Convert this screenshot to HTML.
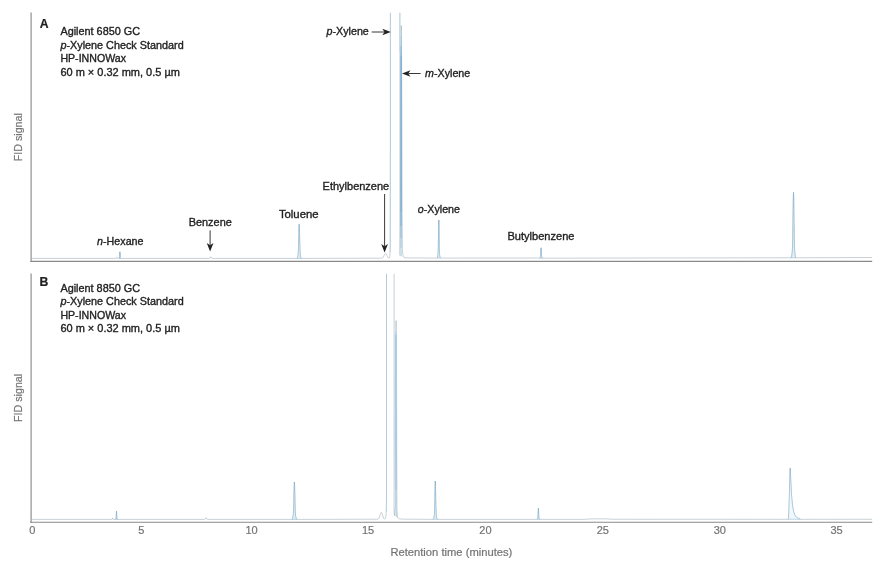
<!DOCTYPE html>
<html lang="en">
<head>
<meta charset="utf-8">
<title>p-Xylene check standard chromatograms</title>
<style>
html,body{margin:0;padding:0;background:#fff;}
body{width:890px;height:563px;overflow:hidden;}
svg{display:block;}
text{font-family:"Liberation Sans",Arial,sans-serif;font-size:11px;}
.t{fill:#222222;stroke:#222222;stroke-width:0.35px;}
.b{fill:#222222;font-weight:bold;font-size:12.2px;stroke:#222222;stroke-width:0.2px;}
.g{fill:#747474;stroke:#747474;stroke-width:0.2px;}
.i{font-style:italic;}
</style>
</head>
<body>
<svg width="890" height="563" viewBox="0 0 890 563">
<rect width="890" height="563" fill="#ffffff"/>
<g fill="none" stroke="#7a909c" stroke-width="0.42" stroke-linejoin="round">
<path d="M31.6 258.4 L114.5 258.4 L115.7 258.4 L116 258.37 L116.3 258.3 L116.54 258.07 L116.6 257.94 L116.72 257.61 L116.9 257.3 L117.08 257.61 L117.2 257.94 L117.26 258.07 L117.5 258.3 L117.8 258.37 L118.1 258.4 L119 258.4 L119.15 258.32 L119.3 258.15 L119.45 257.82 L119.6 256.81 L119.63 256.41 L119.75 254.01 L119.77 253.67 L119.9 251.8 L120.04 253.67 L120.05 254.01 L120.17 256.41 L120.2 256.81 L120.35 257.82 L120.5 258.15 L120.65 258.32 L120.8 258.4 L207.5 258.4 L208.7 258.4 L209.03 258.38 L209.37 258.33 L209.7 258.25 L210.03 257.99 L210.1 257.89 L210.37 257.27 L210.4 257.18 L210.7 256.7 L211 257.18 L211.03 257.27 L211.3 257.89 L211.37 257.99 L211.7 258.25 L212.03 258.33 L212.37 258.38 L212.7 258.4 L296 258.4 L296.9 258.4 L297.09 258.23 L297.28 257.98 L297.47 257.61 L297.67 257.1 L297.86 256.4 L298.05 255.38 L298.24 253.61 L298.43 250.2 L298.51 248.13 L298.62 244.16 L298.82 235.72 L298.85 233.95 L299.01 227.69 L299.2 224.3 L299.39 227.69 L299.55 233.95 L299.58 235.72 L299.77 244.16 L299.89 248.13 L299.97 250.2 L300.16 253.61 L300.35 255.38 L300.54 256.4 L300.73 257.1 L300.93 257.61 L301.12 257.98 L301.31 258.23 L301.5 258.4 L381.5 258.2 L382.2 258.1 L382.61 257.84 L383.02 257.41 L383.44 256.79 L383.85 256 L384.26 255.12 L384.68 254.3 L385.09 253.71 L385.5 253.5 L385.91 253.71 L386.32 254.3 L386.74 255.12 L387.15 256 L387.56 256.79 L387.97 257.41 L388.39 257.84 L388.8 258.1 L389.4 257.8 L389.9 256 L390.15 245 L390.4 150 L390.4 12.8"/>
<path d="M399.9 12.8 L399.9 254 L400.3 256 L400.6 200 L400.85 120 L401.1 50 L401.3 25.6 L401.5 50 L401.75 120 L402 200 L402.3 250 L403.2 256.9 L405 257.8 L408 257.9 L436.8 258.1 L437.2 258.1 L437.36 257.86 L437.52 257.48 L437.68 256.89 L437.84 256.04 L438 254.72 L438.16 252.17 L438.32 246.63 L438.48 236.72 L438.56 230.78 L438.64 225.31 L438.8 220 L438.96 225.31 L439.04 230.78 L439.12 236.72 L439.28 246.63 L439.44 252.17 L439.6 254.72 L439.76 256.04 L439.92 256.89 L440.08 257.48 L440.24 257.86 L440.4 258.1 L539.5 258 L539.7 258.2 L539.88 258.11 L540.05 257.96 L540.23 257.7 L540.4 257.28 L540.58 256.3 L540.68 255.07 L540.75 253.86 L540.89 250.74 L540.93 249.96 L541.1 247.8 L541.27 249.96 L541.31 250.74 L541.45 253.86 L541.52 255.07 L541.62 256.3 L541.8 257.28 L541.98 257.7 L542.15 257.96 L542.33 258.11 L542.5 258.2 L700 257.9 L790 257.8 L791 257.8 L791.18 257.53 L791.36 257.15 L791.54 256.62 L791.71 255.9 L791.89 254.96 L792.07 253.74 L792.25 252.01 L792.43 249.25 L792.61 244.41 L792.75 238.14 L792.79 236.17 L792.96 223.97 L793.12 210.98 L793.14 209.55 L793.32 197.34 L793.5 192.5 L793.68 197.34 L793.86 209.55 L793.88 210.98 L794.04 223.97 L794.21 236.17 L794.25 238.14 L794.39 244.41 L794.57 249.25 L794.75 252.01 L794.93 253.74 L795.11 254.96 L795.29 255.9 L795.46 256.62 L795.64 257.15 L795.82 257.53 L796 257.8 L872 257.5"/>
<path d="M31.6 519.4 L111 519.4 L111.7 519.4 L111.95 519.37 L112.2 519.28 L112.4 518.98 L112.45 518.82 L112.55 518.4 L112.7 518 L112.85 518.4 L112.95 518.82 L113 518.98 L113.2 519.28 L113.45 519.37 L113.7 519.4 L115.5 519.4 L115.67 519.3 L115.83 519.09 L116 518.67 L116.17 517.43 L116.2 516.93 L116.33 513.95 L116.35 513.52 L116.5 511.2 L116.65 513.52 L116.67 513.95 L116.8 516.93 L116.83 517.43 L117 518.67 L117.17 519.09 L117.33 519.3 L117.5 519.4 L203.5 519.4 L204.2 519.4 L204.53 519.38 L204.87 519.33 L205.2 519.24 L205.53 518.97 L205.6 518.86 L205.87 518.2 L205.9 518.11 L206.2 517.6 L206.5 518.11 L206.53 518.2 L206.8 518.86 L206.87 518.97 L207.2 519.24 L207.53 519.33 L207.87 519.38 L208.2 519.4 L291.5 519.4 L291.9 519.4 L292.11 519.22 L292.32 518.94 L292.52 518.53 L292.73 517.97 L292.94 517.21 L293.15 516.1 L293.36 514.16 L293.57 510.43 L293.65 508.17 L293.77 503.82 L293.98 494.59 L294.02 492.66 L294.19 485.8 L294.4 482.1 L294.61 485.8 L294.77 492.66 L294.82 494.59 L295.02 503.82 L295.15 508.17 L295.23 510.43 L295.44 514.16 L295.65 516.1 L295.86 517.21 L296.07 517.97 L296.27 518.53 L296.48 518.94 L296.69 519.22 L296.9 519.4 L377.5 519.2 L378.3 519.1 L378.68 518.71 L379.05 518.08 L379.43 517.17 L379.8 516 L380.18 514.7 L380.55 513.49 L380.93 512.62 L381.3 512.3 L381.68 512.62 L382.05 513.49 L382.43 514.7 L382.8 516 L383.18 517.17 L383.55 518.08 L383.93 518.71 L384.3 519.1 L385.3 518.4 L386 516 L386.5 500 L386.5 273.8"/>
<path d="M394.1 273.8 L394.1 512 L394.7 515.6 L395.55 505 L395.3 470 L395.5 400 L395.8 345 L396.1 320.6 L396.4 345 L396.6 400 L396.8 470 L396.95 510 L397.5 517.6 L399.5 518.85 L403 519.15 L433 519.35 L433.3 519.35 L433.5 519.11 L433.7 518.72 L433.9 518.13 L434.1 517.28 L434.3 515.95 L434.5 513.38 L434.7 507.8 L434.9 497.83 L435 491.85 L435.1 486.35 L435.3 481 L435.5 486.35 L435.6 491.85 L435.7 497.83 L435.9 507.8 L436.1 513.38 L436.3 515.95 L436.5 517.28 L436.7 518.13 L436.9 518.72 L437.1 519.11 L437.3 519.35 L536.8 519.35 L537.1 519.35 L537.26 519.26 L537.42 519.09 L537.59 518.82 L537.75 518.37 L537.91 517.33 L538.01 516.02 L538.08 514.73 L538.2 511.43 L538.24 510.6 L538.4 508.3 L538.56 510.6 L538.6 511.43 L538.72 514.73 L538.79 516.02 L538.89 517.33 L539.05 518.37 L539.21 518.82 L539.38 519.09 L539.54 519.26 L539.7 519.35 L584 519.35 L592 518.85 L606 518.85 L613 519.25 L787.5 519.3 L788.3 519.3 L788.5 517.68 L788.7 515.02 L788.9 511 L789.1 505.43 L789.3 498.38 L789.5 490.3 L789.7 482.08 L789.9 474.89 L790.1 469.96 L790.3 468.2 L790.36 470.05 L790.48 473.59 L790.65 477.98 L790.85 482.76 L791.09 487.59 L791.36 492.22 L791.65 496.5 L791.97 500.35 L792.32 503.72 L792.69 506.61 L793.08 509.04 L793.5 511.05 L793.94 512.7 L794.39 514.04 L794.87 515.12 L795.37 515.98 L795.89 516.66 L796.42 517.2 L796.97 517.63 L797.55 517.97 L798.13 518.24 L798.74 518.45 L799.36 518.62 L800 519.3 L872 519.25"/>
</g>
<g fill="#e2eef5" stroke="#74abd0" stroke-width="0.45" stroke-linejoin="round">
<path fill="#e2eef5" d="M119 258.4 L119.15 258.32 L119.3 258.15 L119.45 257.82 L119.6 256.81 L119.63 256.41 L119.75 254.01 L119.77 253.67 L119.9 251.8 L120.04 253.67 L120.05 254.01 L120.17 256.41 L120.2 256.81 L120.35 257.82 L120.5 258.15 L120.65 258.32 L120.8 258.4Z"/>
<path fill="#e2eef5" d="M296.9 258.4 L297.09 258.23 L297.28 257.98 L297.47 257.61 L297.67 257.1 L297.86 256.4 L298.05 255.38 L298.24 253.61 L298.43 250.2 L298.51 248.13 L298.62 244.16 L298.82 235.72 L298.85 233.95 L299.01 227.69 L299.2 224.3 L299.39 227.69 L299.55 233.95 L299.58 235.72 L299.77 244.16 L299.89 248.13 L299.97 250.2 L300.16 253.61 L300.35 255.38 L300.54 256.4 L300.73 257.1 L300.93 257.61 L301.12 257.98 L301.31 258.23 L301.5 258.4Z"/>
<path fill="#e2eef5" d="M437.2 258.1 L437.36 257.86 L437.52 257.48 L437.68 256.89 L437.84 256.04 L438 254.72 L438.16 252.17 L438.32 246.63 L438.48 236.72 L438.56 230.78 L438.64 225.31 L438.8 220 L438.96 225.31 L439.04 230.78 L439.12 236.72 L439.28 246.63 L439.44 252.17 L439.6 254.72 L439.76 256.04 L439.92 256.89 L440.08 257.48 L440.24 257.86 L440.4 258.1Z"/>
<path fill="#e2eef5" d="M539.7 258.2 L539.88 258.11 L540.05 257.96 L540.23 257.7 L540.4 257.28 L540.58 256.3 L540.68 255.07 L540.75 253.86 L540.89 250.74 L540.93 249.96 L541.1 247.8 L541.27 249.96 L541.31 250.74 L541.45 253.86 L541.52 255.07 L541.62 256.3 L541.8 257.28 L541.98 257.7 L542.15 257.96 L542.33 258.11 L542.5 258.2Z"/>
<path fill="#e2eef5" d="M791 257.8 L791.18 257.53 L791.36 257.15 L791.54 256.62 L791.71 255.9 L791.89 254.96 L792.07 253.74 L792.25 252.01 L792.43 249.25 L792.61 244.41 L792.75 238.14 L792.79 236.17 L792.96 223.97 L793.12 210.98 L793.14 209.55 L793.32 197.34 L793.5 192.5 L793.68 197.34 L793.86 209.55 L793.88 210.98 L794.04 223.97 L794.21 236.17 L794.25 238.14 L794.39 244.41 L794.57 249.25 L794.75 252.01 L794.93 253.74 L795.11 254.96 L795.29 255.9 L795.46 256.62 L795.64 257.15 L795.82 257.53 L796 257.8Z"/>
<path fill="#e2eef5" d="M115.5 519.4 L115.67 519.3 L115.83 519.09 L116 518.67 L116.17 517.43 L116.2 516.93 L116.33 513.95 L116.35 513.52 L116.5 511.2 L116.65 513.52 L116.67 513.95 L116.8 516.93 L116.83 517.43 L117 518.67 L117.17 519.09 L117.33 519.3 L117.5 519.4Z"/>
<path fill="#e2eef5" d="M291.9 519.4 L292.11 519.22 L292.32 518.94 L292.52 518.53 L292.73 517.97 L292.94 517.21 L293.15 516.1 L293.36 514.16 L293.57 510.43 L293.65 508.17 L293.77 503.82 L293.98 494.59 L294.02 492.66 L294.19 485.8 L294.4 482.1 L294.61 485.8 L294.77 492.66 L294.82 494.59 L295.02 503.82 L295.15 508.17 L295.23 510.43 L295.44 514.16 L295.65 516.1 L295.86 517.21 L296.07 517.97 L296.27 518.53 L296.48 518.94 L296.69 519.22 L296.9 519.4Z"/>
<path fill="#e2eef5" d="M433.3 519.35 L433.5 519.11 L433.7 518.72 L433.9 518.13 L434.1 517.28 L434.3 515.95 L434.5 513.38 L434.7 507.8 L434.9 497.83 L435 491.85 L435.1 486.35 L435.3 481 L435.5 486.35 L435.6 491.85 L435.7 497.83 L435.9 507.8 L436.1 513.38 L436.3 515.95 L436.5 517.28 L436.7 518.13 L436.9 518.72 L437.1 519.11 L437.3 519.35Z"/>
<path fill="#e2eef5" d="M537.1 519.35 L537.26 519.26 L537.42 519.09 L537.59 518.82 L537.75 518.37 L537.91 517.33 L538.01 516.02 L538.08 514.73 L538.2 511.43 L538.24 510.6 L538.4 508.3 L538.56 510.6 L538.6 511.43 L538.72 514.73 L538.79 516.02 L538.89 517.33 L539.05 518.37 L539.21 518.82 L539.38 519.09 L539.54 519.26 L539.7 519.35Z"/>
<path fill="#f1f7fb" d="M788.3 519.3 L788.5 517.68 L788.7 515.02 L788.9 511 L789.1 505.43 L789.3 498.38 L789.5 490.3 L789.7 482.08 L789.9 474.89 L790.1 469.96 L790.3 468.2 L790.36 470.05 L790.48 473.59 L790.65 477.98 L790.85 482.76 L791.09 487.59 L791.36 492.22 L791.65 496.5 L791.97 500.35 L792.32 503.72 L792.69 506.61 L793.08 509.04 L793.5 511.05 L793.94 512.7 L794.39 514.04 L794.87 515.12 L795.37 515.98 L795.89 516.66 L796.42 517.2 L796.97 517.63 L797.55 517.97 L798.13 518.24 L798.74 518.45 L799.36 518.62 L800 519.3Z"/>
</g>
<path d="M390.4 12.8 V252 M399.9 12.8 V52 M386.5 273.8 V512" fill="none" stroke="#9cc6df" stroke-width="0.45"/>
<path d="M401.3 26 L400.95 36 H401.7 Z" fill="#c3dbea"/>
<path d="M400.95 36 L400.55 46 H401.9 L401.7 36 Z" fill="#a9cbe2"/>
<path d="M400.55 46 L400.25 56 H402.05 L401.9 46 Z" fill="#93bedb"/>
<rect x="400.25" y="56" width="1.8" height="156" fill="#84b4d6"/>
<rect x="400.25" y="212" width="1.8" height="14" fill="#90bbda"/>
<rect x="400.25" y="226" width="1.8" height="12" fill="#a6c9e1"/>
<rect x="400.25" y="238" width="1.8" height="10" fill="#bcd7e8"/>
<rect x="400.25" y="248" width="1.8" height="8.3" fill="#cfe3ef"/>
<path d="M396.1 321 L395.6 331 H396.5 Z" fill="#cfe3ef"/>
<path d="M395.6 331 L394.8 335 H396.95 L396.5 331 Z" fill="#b9d6e8"/>
<path d="M394.8 335 V440 L395.4 490 H396.95 V335 Z" fill="#a9cde4"/>
<path d="M395.4 490 L395.6 515.5 L396.1 517 H396.95 V490 Z" fill="#b8d5e7"/>
<g fill="none" stroke="#9c9c9c" stroke-width="1.35">
<path d="M31.1 12.6 V261.9"/>
<path d="M31.1 273.6 V522.9"/>
</g>
<g fill="none" stroke="#8a8a8a" stroke-width="1.1">
<path d="M30.4 261.4 H872.2"/>
<path d="M30.4 522.25 H872.2"/>
</g>
<text class="b" x="39.7" y="28.4">A</text>
<text class="b" x="39.55" y="286.2">B</text>
<text class="t" x="60.4" y="35.25" textLength="79.7" lengthAdjust="spacingAndGlyphs">Agilent 6850 GC</text>
<text class="t" x="60.4" y="48.75" textLength="123.3" lengthAdjust="spacingAndGlyphs"><tspan class="i">p</tspan>-Xylene Check Standard</text>
<text class="t" x="60.4" y="62.25" textLength="65.6" lengthAdjust="spacingAndGlyphs">HP-INNOWax</text>
<text class="t" x="60.4" y="75.85" textLength="119.5" lengthAdjust="spacingAndGlyphs">60 m × 0.32 mm, 0.5 µm</text>
<text class="t" x="60.4" y="291.6" textLength="79.7" lengthAdjust="spacingAndGlyphs">Agilent 8850 GC</text>
<text class="t" x="60.4" y="305.1" textLength="123.3" lengthAdjust="spacingAndGlyphs"><tspan class="i">p</tspan>-Xylene Check Standard</text>
<text class="t" x="60.4" y="318.6" textLength="65.6" lengthAdjust="spacingAndGlyphs">HP-INNOWax</text>
<text class="t" x="60.4" y="332.2" textLength="119.5" lengthAdjust="spacingAndGlyphs">60 m × 0.32 mm, 0.5 µm</text>
<text class="t" x="326.6" y="35.4" textLength="42.2" lengthAdjust="spacingAndGlyphs"><tspan class="i">p</tspan>-Xylene</text>
<text class="t" x="425.1" y="76.9" textLength="45.1" lengthAdjust="spacingAndGlyphs"><tspan class="i">m</tspan>-Xylene</text>
<text class="t" x="322.6" y="190" textLength="66.6" lengthAdjust="spacingAndGlyphs">Ethylbenzene</text>
<text class="t" x="417.8" y="213.1" textLength="42.2" lengthAdjust="spacingAndGlyphs"><tspan class="i">o</tspan>-Xylene</text>
<text class="t" x="278.9" y="218.2" textLength="39.7" lengthAdjust="spacingAndGlyphs">Toluene</text>
<text class="t" x="188.7" y="226.1" textLength="43.1" lengthAdjust="spacingAndGlyphs">Benzene</text>
<text class="t" x="97.1" y="244.8" textLength="46.4" lengthAdjust="spacingAndGlyphs"><tspan class="i">n</tspan>-Hexane</text>
<text class="t" x="507.5" y="239.6" textLength="67" lengthAdjust="spacingAndGlyphs">Butylbenzene</text>
<path d="M371.7 32 L384.5 32" stroke="#222222" stroke-width="0.9" fill="none"/><path d="M390.8 32 L382.3 28.65 L384.5 32 L382.3 35.35 Z" fill="#222222"/>
<path d="M420.6 73.5 L408.3 73.5" stroke="#222222" stroke-width="0.9" fill="none"/><path d="M402 73.5 L410.5 70.15 L408.3 73.5 L410.5 76.85 Z" fill="#222222"/>
<path d="M384.6 194 L384.6 246.2" stroke="#222222" stroke-width="0.9" fill="none"/><path d="M384.6 252.5 L381.25 244 L384.6 246.2 L387.95 244 Z" fill="#222222"/>
<path d="M210.1 230.4 L210.1 245.2" stroke="#222222" stroke-width="0.9" fill="none"/><path d="M210.1 251.5 L206.75 243 L210.1 245.2 L213.45 243 Z" fill="#222222"/>
<text class="g" transform="translate(22.1 137.2) rotate(-90)" text-anchor="middle" textLength="48.2" lengthAdjust="spacingAndGlyphs">FID signal</text>
<text class="g" transform="translate(22.1 397.9) rotate(-90)" text-anchor="middle" textLength="48.2" lengthAdjust="spacingAndGlyphs">FID signal</text>
<text class="g" x="390.4" y="556.2" textLength="121.9" lengthAdjust="spacingAndGlyphs">Retention time (minutes)</text>
<text class="g" x="32.4" y="534.4" text-anchor="middle">0</text>
<text class="g" x="141.2" y="534.4" text-anchor="middle">5</text>
<text class="g" x="251.5" y="534.4" text-anchor="middle">10</text>
<text class="g" x="368.1" y="534.4" text-anchor="middle">15</text>
<text class="g" x="485.4" y="534.4" text-anchor="middle">20</text>
<text class="g" x="602.8" y="534.4" text-anchor="middle">25</text>
<text class="g" x="719.8" y="534.4" text-anchor="middle">30</text>
<text class="g" x="836.6" y="534.4" text-anchor="middle">35</text>
</svg>
</body>
</html>
